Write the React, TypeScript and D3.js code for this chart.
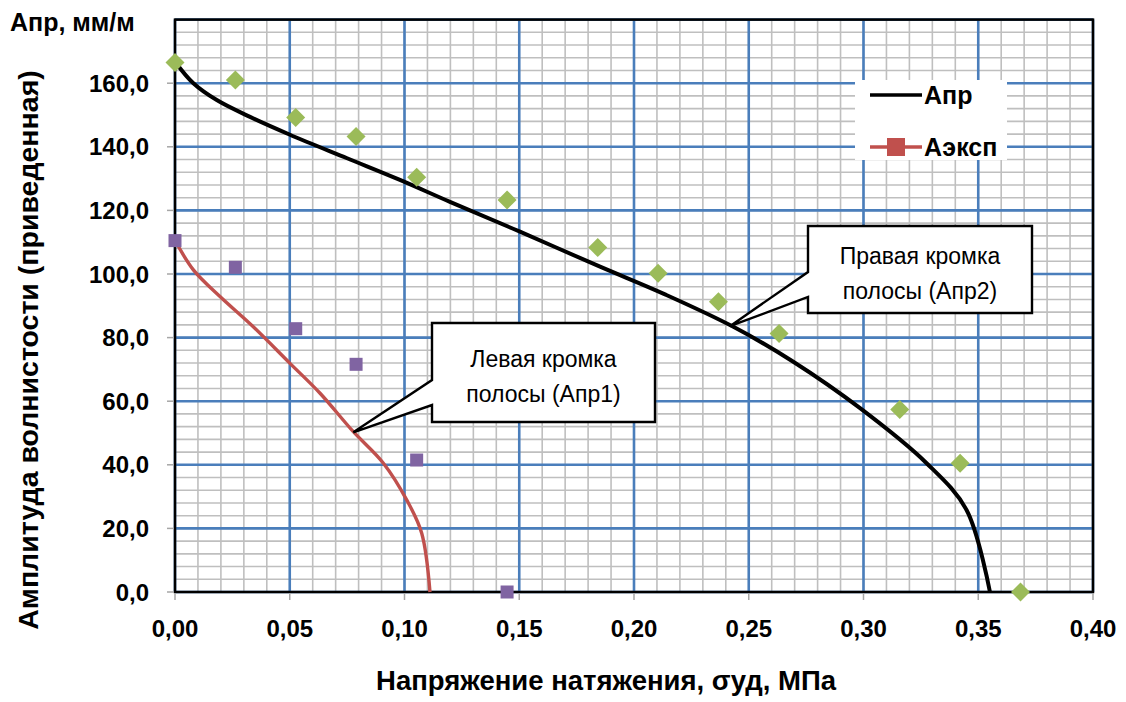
import React from "react";
import * as d3 from "d3";

// Напряжение натяжения, МПа — точки расчёта
const sigmaCalc = [0, 0.0263, 0.0526, 0.0789, 0.1053, 0.1447, 0.1842, 0.2105, 0.2368, 0.2632, 0.3158, 0.3421, 0.3684];
// Правая кромка — точки (зелёные ромбы)
const rightPts = [166.5, 161.0, 149.2, 143.2, 130.4, 123.3, 108.3, 100.2, 91.3, 81.3, 57.4, 40.5, 0];

// Левая кромка — точки (фиолетовые квадраты)
const sigmaLeft = [0, 0.0263, 0.0526, 0.0789, 0.1053, 0.1447];
const leftPts = [110.5, 102.1, 82.8, 71.6, 41.5, 0];

// Кривая Апр
const aprX = [0.0005, 0.008, 0.0182, 0.0327, 0.0501, 0.075, 0.098, 0.1198, 0.1503, 0.1852, 0.2135, 0.2433, 0.2694, 0.2985, 0.3275, 0.3449, 0.3551];
const aprY = [166.3, 160.0, 154.7, 149.4, 143.8, 136.4, 129.6, 122.7, 113.3, 102.3, 93.6, 83.4, 72.4, 57.8, 40.5, 25.8, 0];

// Кривая Аэксп
const expX = [0, 0.008, 0.0196, 0.0341, 0.0501, 0.0632, 0.0777, 0.0908, 0.101, 0.1075, 0.1111];
const expY = [110.6, 101.3, 92.9, 83.4, 71.9, 62.5, 50.4, 40.5, 28.9, 18.5, 0];

const xTicks = [0, 0.05, 0.1, 0.15, 0.2, 0.25, 0.3, 0.35, 0.4];
const yTicks = [0, 20, 40, 60, 80, 100, 120, 140, 160];

const legendItems = ["Апр", "Аэксп"];

const callouts = [
  { lines: ["Левая кромка", "полосы (Апр1)"], at: [0.0777, 50.2], box: [432, 323, 655, 422], notch: [380, 405] },
  { lines: ["Правая кромка", "полосы (Апр2)"], at: [0.2418, 83.6], box: [808, 226, 1032, 313], notch: [272, 297] },
];

const W = 1126;
const H = 702;
const FONT = "'Liberation Sans', Arial, sans-serif";

export default function App() {
  const x = d3.scaleLinear().domain([0, 0.4]).range([175, 1093]);
  const y = d3.scaleLinear().domain([0, 180]).range([592, 19.6]);

  const minorX = d3.range(0, 0.4001, 0.01);
  const minorY = d3.range(0, 180.1, 4);
  const majorX = d3.range(0, 0.4001, 0.05);
  const majorY = d3.range(0, 180.1, 20);

  const line = d3
    .line<[number, number]>()
    .x((d) => x(d[0]))
    .y((d) => y(d[1]))
    .curve(d3.curveCatmullRom.alpha(0.5));

  const aprData = aprX.map((v, i) => [v, aprY[i]] as [number, number]);
  const expData = expX.map((v, i) => [v, expY[i]] as [number, number]);

  const fmtX = (v: number) => v.toFixed(2).replace(".", ",");
  const fmtY = (v: number) => v.toFixed(1).replace(".", ",");

  const [x0, x1] = x.range();
  const [y0, y1] = y.range();

  return (
    <svg width={W} height={H} style={{ position: "absolute", left: 0, top: 0, background: "#fff" }} fontFamily={FONT}>
      <rect x={0} y={0} width={W} height={H} fill="#fff" />
      {/* minor grid */}
      <g stroke="#bfbfbf" strokeWidth={1.6}>
        {minorX.map((v, i) => (
          <line key={"mx" + i} x1={x(v)} x2={x(v)} y1={y1} y2={y0} />
        ))}
        {minorY.map((v, i) => (
          <line key={"my" + i} x1={x0} x2={x1} y1={y(v)} y2={y(v)} />
        ))}
      </g>
      {/* major grid */}
      <g stroke="#4a7ebb" strokeWidth={2.6}>
        {majorX.map((v, i) => (
          <line key={"Mx" + i} x1={x(v)} x2={x(v)} y1={y1} y2={y0} />
        ))}
        {majorY.map((v, i) => (
          <line key={"My" + i} x1={x0} x2={x1} y1={y(v)} y2={y(v)} />
        ))}
      </g>
      {/* frame */}
      <rect x={x0} y={y1} width={x1 - x0} height={y0 - y1} fill="none" stroke="#000" strokeWidth={2.5} />
      {/* ticks */}
      <g stroke="#a6a6a6" strokeWidth={1.5}>
        {xTicks.map((v, i) => (
          <line key={"tx" + i} x1={x(v)} x2={x(v)} y1={y0 + 1} y2={y0 + 8} />
        ))}
        {yTicks.map((v, i) => (
          <line key={"ty" + i} x1={x0 - 8} x2={x0 - 1} y1={y(v)} y2={y(v)} />
        ))}
      </g>
      {/* tick labels */}
      <g fontWeight="bold" fontSize={24} fill="#000">
        {xTicks.map((v, i) => (
          <text key={"lx" + i} x={x(v)} y={637} textAnchor="middle">
            {fmtX(v)}
          </text>
        ))}
        {yTicks.map((v, i) => (
          <text key={"ly" + i} x={149} y={y(v) + 8.5} textAnchor="end">
            {fmtY(v)}
          </text>
        ))}
      </g>
      {/* curves */}
      <path d={line(expData) || ""} fill="none" stroke="#c0504d" strokeWidth={3.4} strokeLinejoin="round" />
      <path d={line(aprData) || ""} fill="none" stroke="#000" strokeWidth={4} strokeLinejoin="round" />
      {/* markers */}
      {sigmaLeft.map((v, i) => (
        <rect key={"sq" + i} x={x(v) - 6.5} y={y(leftPts[i]) - 6.5} width={13} height={13} fill="#8064a2" />
      ))}
      {sigmaCalc.map((v, i) => {
        const cx = x(v);
        const cy = y(rightPts[i]);
        const r = 9.5;
        return (
          <path
            key={"dm" + i}
            d={`M${cx},${cy - r}L${cx + r},${cy}L${cx},${cy + r}L${cx - r},${cy}Z`}
            fill="#9bbb59"
          />
        );
      })}
      {/* legend */}
      <rect x={855} y={80} width={152} height={80} fill="#fff" />
      <line x1={870} x2={922} y1={95} y2={95} stroke="#000" strokeWidth={3.4} />
      <text x={924} y={104} fontWeight="bold" fontSize={25}>
        {legendItems[0]}
      </text>
      <line x1={870} x2={922} y1={147} y2={147} stroke="#c0504d" strokeWidth={3.4} />
      <rect x={887} y={138} width={18} height={18} fill="#c0504d" />
      <text x={924} y={156} fontWeight="bold" fontSize={25}>
        {legendItems[1]}
      </text>
      {/* callouts */}
      {callouts.map((c, i) => {
        const [bx0, by0, bx1, by1] = c.box;
        const tx = x(c.at[0]);
        const ty = y(c.at[1]);
        const d = `M${bx0},${by0}L${bx1},${by0}L${bx1},${by1}L${bx0},${by1}L${bx0},${c.notch[1]}L${tx},${ty}L${bx0},${c.notch[0]}Z`;
        const cx = (bx0 + bx1) / 2;
        const cyMid = (by0 + by1) / 2;
        return (
          <g key={"co" + i}>
            <path d={d} fill="#fff" stroke="#000" strokeWidth={2.4} strokeLinejoin="miter" />
            <text x={cx} y={cyMid - 6} textAnchor="middle" fontSize={23}>
              {c.lines[0]}
            </text>
            <text x={cx} y={cyMid + 29} textAnchor="middle" fontSize={23}>
              {c.lines[1]}
            </text>
          </g>
        );
      })}
      {/* axis titles */}
      <text x={10} y={31} fontWeight="bold" fontSize={25}>
        Апр, мм/м
      </text>
      <text x={606} y={690} textAnchor="middle" fontWeight="bold" fontSize={27.5}>
        Напряжение натяжения, σуд, МПа
      </text>
      <text
        transform={`translate(38,350) rotate(-90)`}
        textAnchor="middle"
        fontWeight="bold"
        fontSize={28.5}
      >
        Амплитуда волнистости (приведенная)
      </text>
    </svg>
  );
}
